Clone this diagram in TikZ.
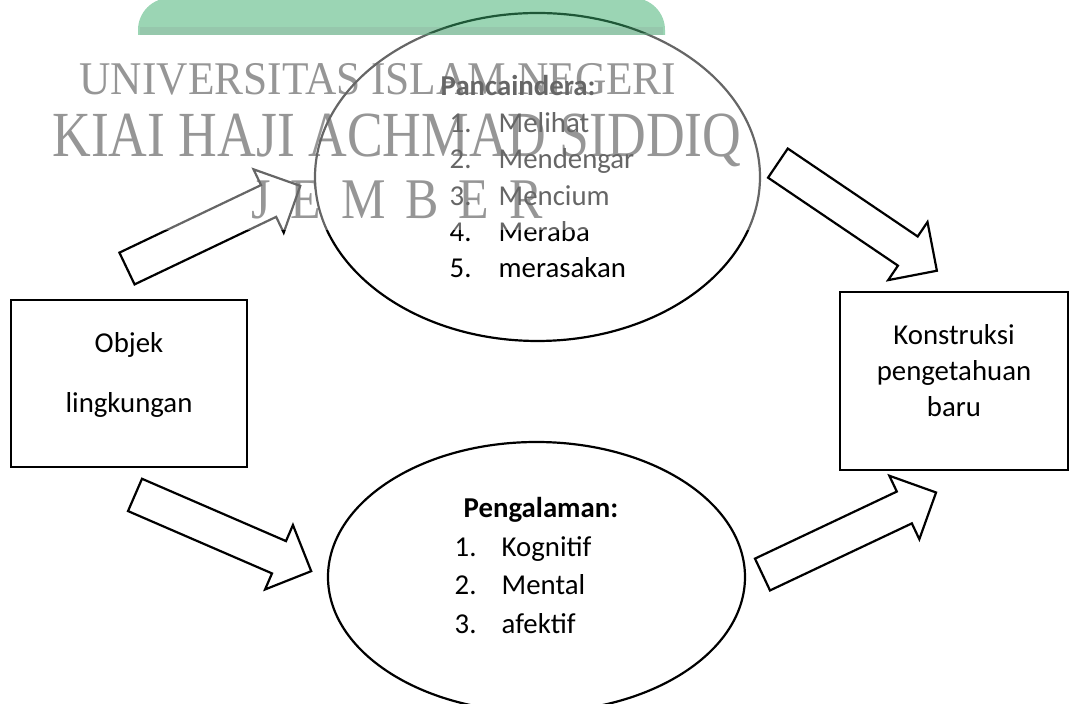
\documentclass[tikz,border=0pt]{standalone}
\usepackage{fontspec}
\setmainfont{Carlito}
\newfontfamily\wmfont{Liberation Serif}
\definecolor{logogreen}{RGB}{59, 172, 108}
\definecolor{wmgray}{RGB}{80, 80, 80}
\usepackage{tikz}
\usetikzlibrary{shapes}
\usetikzlibrary{shapes.arrows}
\usetikzlibrary{positioning}
\tikzset{
    box/.style = {
      draw,
      line width=1.3pt,
      rectangle,
      align=center,
      font=\fontsize{14.4}{18.2}\selectfont
    },
    bubble/.style = {
      draw,
      line width=1.1pt,
      ellipse,
      align=left,
      font=\fontsize{14.4}{18.2}\selectfont
    },
    blockarrow/.style = {
      draw,
      line width=1.1pt,
      single arrow,
      single arrow head extend=8.75pt,
      inner xsep=0pt,
      inner ysep=8.25pt,
      minimum width=34pt,
      minimum height=96pt,
      anchor=tail
    },
    watermark/.style = {
      text=wmgray,
      inner sep=0pt,
      anchor=base
    },
}

\begin{document}
\begin{tikzpicture}[x=0.5pt, y=-0.5pt]
      \useasboundingbox (0,0) rectangle (1083,704);

      \node [watermark, font=\wmfont\fontsize{21.7}{24}\selectfont] (wmuniv) at (378,95)
            {\scalebox{1}[1.08]{UNIVERSITAS ISLAM NEGERI}};
      \node [watermark, font=\wmfont\fontsize{26.8}{30}\selectfont] (wmkiai) at (397,157)
            {\scalebox{1}[1.2]{KIAI HAJI ACHMAD SIDDIQ}};
      \node [watermark, font=\wmfont\fontsize{25}{28}\selectfont] (wmjember) at (397,219)
            {\scalebox{1}[1.15]{\spaceskip=0.4em J E M B E R}};

      \node [box, minimum width=118pt, minimum height=83.5pt] (objek) at (129,383.5)
            {Objek\\[11.8pt]lingkungan\\[-7.7pt]};
      \node [box, minimum width=114pt, minimum height=89pt] (konstruksi) at (954,381)
            {Konstruksi\\pengetahuan\\baru\\[-7.7pt]};

      \node [bubble, minimum width=222.5pt, minimum height=164pt] (panca) at (537.5,177)
            {\textbf{Pancaindera:}\\
             \hspace*{4.5pt}\makebox[24.5pt][l]{1.}Melihat\\
             \hspace*{4.5pt}\makebox[24.5pt][l]{2.}Mendengar\\
             \hspace*{4.5pt}\makebox[24.5pt][l]{3.}Mencium\\
             \hspace*{4.5pt}\makebox[24.5pt][l]{4.}Meraba\\
             \hspace*{4.5pt}\makebox[24.5pt][l]{5.}merasakan};
      \node [bubble, minimum width=208.5pt, minimum height=135pt,
             font=\fontsize{14.4}{19.25}\selectfont] (pengalaman) at (536.5,577)
            {\hspace*{4.5pt}\textbf{Pengalaman:}\\
             \makebox[23.5pt][l]{1.}Kognitif\\
             \makebox[23.5pt][l]{2.}Mental\\
             \makebox[23.5pt][l]{3.}afektif\\[-7.75pt]};

      \node [blockarrow, rotate=25.5] (keindera) at (126,269) {};
      \node [blockarrow, rotate=-34.1] (kekonstruksi) at (777,162.5) {};
      \node [blockarrow, rotate=-23.4] (kepengalaman) at (134,494.5) {};
      \node [blockarrow, rotate=25.3] (kebaru) at (761.5,575) {};

      \fill [white, fill opacity=0.4] (30,33) rectangle (763,230);
      \fill [logogreen, fill opacity=0.51, rounded corners=16]
            (138,35) -- (138,-2) -- (665,-2) -- (665,35);
      \fill [gray, fill opacity=0.15] (140,27) rectangle (663,35);
\end{tikzpicture}
\end{document}
